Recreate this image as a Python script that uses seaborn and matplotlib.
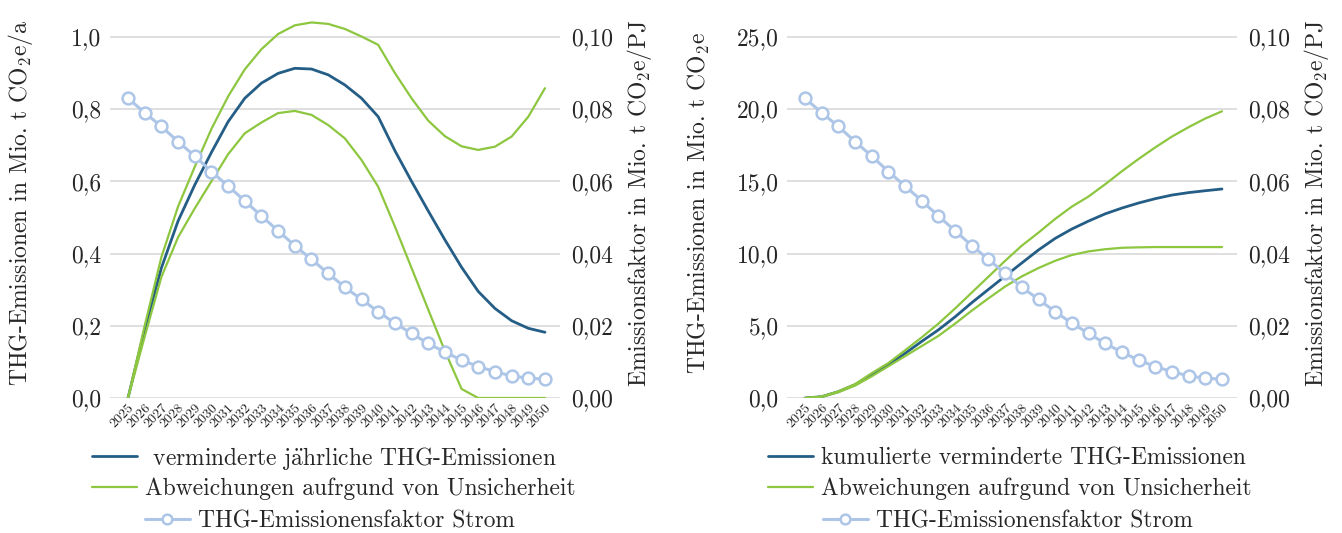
import numpy as np
import pandas as pd
import matplotlib
matplotlib.use("Agg")
import matplotlib.pyplot as plt
from matplotlib.lines import Line2D
from matplotlib.ticker import FuncFormatter
import seaborn as sns

# values
years = list(range(2025, 2051))

annual = [0, 0.19, 0.36, 0.49, 0.59, 0.68, 0.765, 0.83, 0.872, 0.899, 0.913, 0.911, 0.895,
          0.867, 0.830, 0.779, 0.685, 0.60, 0.518, 0.438, 0.362, 0.295, 0.248, 0.214, 0.193, 0.182]
annual_upper = [0, 0.20, 0.39, 0.53, 0.64, 0.745, 0.835, 0.91, 0.966, 1.008, 1.032, 1.040, 1.036,
                1.022, 1.001, 0.978, 0.90, 0.83, 0.768, 0.725, 0.697, 0.687, 0.696, 0.724, 0.779, 0.858]
annual_lower = [0, 0.17, 0.335, 0.445, 0.525, 0.60, 0.675, 0.733, 0.763, 0.789, 0.795, 0.784, 0.756,
                0.719, 0.659, 0.585, 0.475, 0.36, 0.245, 0.13, 0.025, 0, 0, 0, 0, 0]

cumulative = [0, 0.09, 0.44, 0.92, 1.6, 2.3, 3.09, 3.92, 4.72, 5.62, 6.6, 7.52, 8.44,
              9.35, 10.25, 11.05, 11.7, 12.25, 12.75, 13.15, 13.5, 13.8, 14.05, 14.22, 14.35, 14.47]
cumulative_upper = [0, 0.1, 0.46, 0.96, 1.72, 2.42, 3.3, 4.2, 5.15, 6.2, 7.3, 8.4, 9.5,
                    10.55, 11.45, 12.4, 13.25, 13.95, 14.8, 15.7, 16.55, 17.35, 18.1, 18.75, 19.35, 19.85]
cumulative_lower = [0, 0.08, 0.4, 0.86, 1.5, 2.2, 2.9, 3.6, 4.3, 5.15, 6.05, 6.9, 7.72,
                    8.42, 9.0, 9.5, 9.9, 10.15, 10.3, 10.4, 10.43, 10.45, 10.45, 10.45, 10.45, 10.45]

factor = [0.0830, 0.0790, 0.0752, 0.0710, 0.0670, 0.0627, 0.0587, 0.0546, 0.0504, 0.0463,
          0.0422, 0.0384, 0.0345, 0.0307, 0.0273, 0.0239, 0.0207, 0.0179, 0.0151, 0.0127,
          0.0105, 0.0087, 0.0073, 0.0061, 0.0055, 0.0052]

left_ticks = [0, 0.2, 0.4, 0.6, 0.8, 1.0]
right_chart_ticks = [0, 5, 10, 15, 20, 25]
factor_ticks = [0, 0.02, 0.04, 0.06, 0.08, 0.10]

labels_left = [r" verminderte j$\ddot{\mathrm{a}}$hrliche THG-Emissionen",
               "Abweichungen aufrgund von Unsicherheit",
               "THG-Emissionensfaktor Strom"]
labels_right = ["kumulierte verminderte THG-Emissionen",
                "Abweichungen aufrgund von Unsicherheit",
                "THG-Emissionensfaktor Strom"]

DARK = "#245D85"
GREEN = "#8DC63F"
LIGHT = "#ADC5E7"
GRID = "#D9D9D9"

sns.set_theme(style="white")
plt.rcParams["font.family"] = ["cmr10", "DejaVu Serif"]
plt.rcParams["mathtext.fontset"] = "cm"
plt.rcParams["axes.unicode_minus"] = False

W, H = 1342, 533
fig = plt.figure(figsize=(W / 100, H / 100), dpi=100)

TICK_FS = 17
LABEL_FS = 17
LEG_FS = 16.9


def comma(decimals):
    return FuncFormatter(lambda v, p: f"{v:.{decimals}f}".replace(".", ","))


def panel(left_px, main, upper, lower, ticks, ytop, ylabel, legend_labels, leg_x):
    ax = fig.add_axes([left_px / W, 135 / H, 450 / W, 390 / H])
    df = pd.DataFrame({"Jahr": years, "main": main, "upper": upper, "lower": lower})
    sns.lineplot(data=df, x="Jahr", y="main", ax=ax, color=DARK, linewidth=2.0)
    sns.lineplot(data=df, x="Jahr", y="upper", ax=ax, color=GREEN, linewidth=1.6)
    sns.lineplot(data=df, x="Jahr", y="lower", ax=ax, color=GREEN, linewidth=1.6)

    ax.set_xlim(2025 - 1.08, 2050 + 0.9)
    ax.set_ylim(0, ytop)
    ax.set_yticks(ticks)
    ax.yaxis.set_major_formatter(comma(1))
    ax.yaxis.grid(True, color=GRID, linewidth=1.2)
    ax.set_axisbelow(True)
    ax.set_xticks(years)
    ax.set_xticklabels([str(y) for y in years], rotation=45, ha="right", va="top",
                       rotation_mode="anchor", fontsize=10)
    ax.tick_params(axis="x", length=0, pad=3)
    ax.tick_params(axis="y", length=0, pad=6, labelsize=TICK_FS)
    ax.set_xlabel("")
    ax.set_ylabel(ylabel, fontsize=LABEL_FS)
    ax.yaxis.set_label_coords(-0.166, 0.5)

    ax2 = ax.twinx()
    sns.lineplot(x=years, y=factor, ax=ax2, color=LIGHT, linewidth=2.2, marker="o",
                 markersize=8.5, markerfacecolor="white", markeredgecolor=LIGHT,
                 markeredgewidth=1.8)
    ax2.set_ylim(0, 0.108)
    ax2.set_yticks(factor_ticks)
    ax2.yaxis.set_major_formatter(comma(2))
    ax2.tick_params(axis="y", length=0, pad=8, labelsize=TICK_FS)
    ax2.set_ylabel("Emissionsfaktor in Mio. t CO$_2$e/PJ", fontsize=LABEL_FS)
    ax2.yaxis.set_label_coords(1.144, 0.5)

    for a in (ax, ax2):
        for s in a.spines.values():
            s.set_visible(False)

    handles = [
        Line2D([], [], color=DARK, linewidth=2.0),
        Line2D([], [], color=GREEN, linewidth=1.6),
        Line2D([], [], color=LIGHT, linewidth=2.2, marker="o", markersize=7,
               markerfacecolor="white", markeredgecolor=LIGHT, markeredgewidth=1.8),
    ]
    for h, lab, xl, yc in zip(handles, legend_labels, leg_x, [458, 489, 521]):
        fig.legend(handles=[h], labels=[lab], loc="center left",
                   bbox_to_anchor=(xl / W, 1 - yc / H),
                   frameon=False, fontsize=LEG_FS, handlelength=1.9, handletextpad=0.35,
                   borderpad=0, borderaxespad=0)
    return ax, ax2


panel(110, annual, annual_upper, annual_lower, left_ticks, 1.08,
      "THG-Emissionen in Mio. t CO$_2$e/a", labels_left, [92, 92, 145])
panel(787, cumulative, cumulative_upper, cumulative_lower, right_chart_ticks, 27.0,
      "THG-Emissionen in Mio. t CO$_2$e", labels_right, [768, 768, 823])

fig.savefig("out.png", dpi=100)
